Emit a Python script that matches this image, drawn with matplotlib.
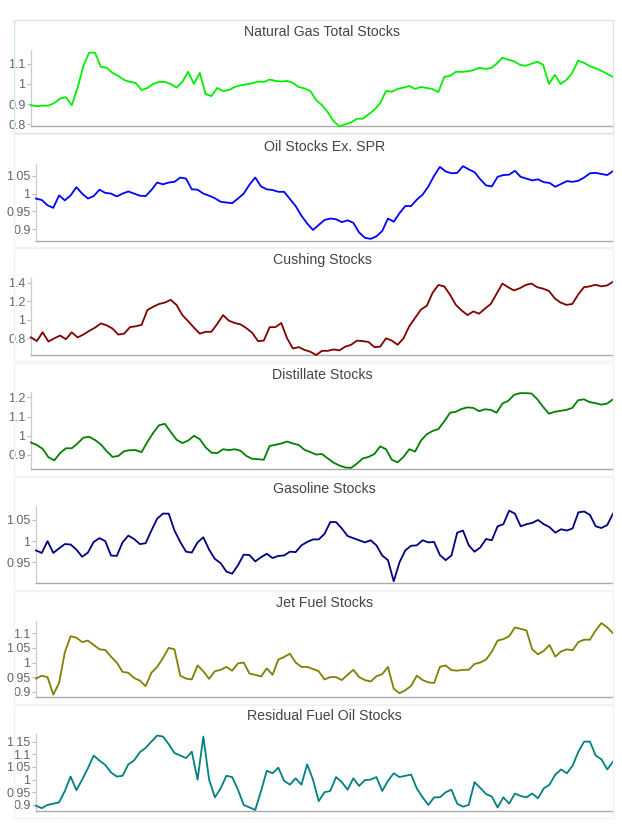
import numpy as np
import matplotlib.pyplot as plt
from matplotlib.patches import Rectangle
from matplotlib.ticker import FuncFormatter

plt.rcParams['font.family'] = ['Liberation Sans', 'DejaVu Sans']

titles = ["Natural Gas Total Stocks", "Oil Stocks Ex. SPR", "Cushing Stocks",
          "Distillate Stocks", "Gasoline Stocks", "Jet Fuel Stocks",
          "Residual Fuel Oil Stocks"]
colors = ["#00ee00", "#0000ff", "#800000", "#008000", "#000080", "#808000", "#008080"]

# weekly stock levels, normalised to their long-run average
nat_gas = [0.895, 0.89, 0.893, 0.893, 0.905, 0.928, 0.935, 0.895, 0.98, 1.09,
           1.155, 1.155, 1.085, 1.08, 1.055, 1.04, 1.02, 1.01, 1.005, 0.97,
           0.98, 1.0, 1.01, 1.01, 1.0, 0.982, 1.01, 1.06, 1.0, 1.055,
           0.95, 0.94, 0.98, 0.965, 0.97, 0.985, 0.993, 0.998, 1.003, 1.012,
           1.01, 1.022, 1.015, 1.012, 1.015, 1.005, 0.985, 0.978, 0.965, 0.92,
           0.895, 0.86, 0.815, 0.79, 0.8, 0.81, 0.828, 0.828, 0.85, 0.872,
           0.905, 0.965, 0.962, 0.975, 0.982, 0.99, 0.975, 0.985, 0.98, 0.975,
           0.96, 1.035, 1.04, 1.06, 1.06, 1.062, 1.068, 1.08, 1.075, 1.078,
           1.1, 1.13, 1.12, 1.112, 1.095, 1.09, 1.1, 1.11, 1.095, 1.0,
           1.045, 1.0, 1.02, 1.055, 1.115, 1.105, 1.088, 1.078, 1.065, 1.05, 1.035]
oil_ex_spr = [0.986, 0.982, 0.967, 0.96, 0.995, 0.981, 0.995, 1.018, 1.0, 0.986,
              0.993, 1.011, 1.002, 1.0, 0.992, 1.0, 1.006, 1.0, 0.994, 0.993,
              1.01, 1.031, 1.026, 1.031, 1.033, 1.045, 1.042, 1.012, 1.011, 1.0,
              0.994, 0.987, 0.977, 0.975, 0.973, 0.986, 1.0, 1.025, 1.045, 1.02,
              1.012, 1.01, 1.005, 1.005, 0.985, 0.965, 0.938, 0.916, 0.898, 0.912,
              0.926, 0.93, 0.928, 0.92, 0.925, 0.918, 0.891, 0.876, 0.873, 0.88,
              0.895, 0.93, 0.921, 0.945, 0.965, 0.965, 0.983, 0.997, 1.02, 1.05,
              1.075, 1.062, 1.057, 1.058, 1.077, 1.068, 1.06, 1.04, 1.023, 1.02,
              1.047, 1.052, 1.053, 1.064, 1.047, 1.042, 1.037, 1.04, 1.032, 1.03,
              1.019, 1.027, 1.035, 1.033, 1.036, 1.045, 1.057, 1.058, 1.055, 1.052, 1.063]
cushing = [0.81, 0.77, 0.865, 0.765, 0.8, 0.83, 0.79, 0.865, 0.81, 0.84,
           0.88, 0.915, 0.96, 0.94, 0.905, 0.84, 0.85, 0.92, 0.93, 0.945,
           1.105, 1.14, 1.17, 1.185, 1.215, 1.16, 1.05, 0.985, 0.915, 0.85,
           0.87, 0.87, 0.955, 1.05, 0.99, 0.965, 0.95, 0.91, 0.86, 0.77,
           0.775, 0.92, 0.92, 0.965, 0.8, 0.69, 0.705, 0.675, 0.655, 0.62,
           0.665, 0.665, 0.68, 0.67, 0.71, 0.73, 0.775, 0.77, 0.76, 0.705,
           0.71, 0.8, 0.775, 0.73, 0.8, 0.93, 1.02, 1.11, 1.15, 1.29,
           1.375, 1.36, 1.27, 1.16, 1.1, 1.05, 1.09, 1.065, 1.12, 1.17,
           1.28, 1.39, 1.35, 1.316, 1.34, 1.375, 1.39, 1.35, 1.335, 1.31,
           1.23, 1.185, 1.16, 1.17, 1.27, 1.35, 1.36, 1.377, 1.36, 1.37, 1.41]
distillate = [0.965, 0.952, 0.932, 0.888, 0.872, 0.91, 0.935, 0.935, 0.96, 0.99,
              0.995, 0.978, 0.955, 0.92, 0.89, 0.895, 0.92, 0.925, 0.925, 0.915,
              0.968, 1.015, 1.055, 1.062, 1.02, 0.98, 0.962, 0.975, 1.0, 0.982,
              0.94, 0.912, 0.91, 0.93, 0.925, 0.93, 0.922, 0.895, 0.88, 0.878,
              0.875, 0.947, 0.953, 0.96, 0.97, 0.96, 0.952, 0.927, 0.915, 0.902,
              0.905, 0.882, 0.86, 0.845, 0.835, 0.833, 0.855, 0.882, 0.89, 0.905,
              0.945, 0.93, 0.875, 0.862, 0.89, 0.93, 0.918, 0.975, 1.008, 1.025,
              1.035, 1.075, 1.12, 1.125, 1.14, 1.148, 1.145, 1.128, 1.138, 1.135,
              1.12, 1.168, 1.182, 1.213, 1.222, 1.222, 1.22, 1.19, 1.15, 1.115,
              1.125, 1.13, 1.135, 1.145, 1.185, 1.19, 1.175, 1.17, 1.162, 1.168, 1.19]
gasoline = [0.978, 0.972, 1.0, 0.972, 0.983, 0.993, 0.992, 0.98, 0.963, 0.973,
            0.998, 1.007, 1.0, 0.966, 0.965, 0.997, 1.013, 1.005, 0.993, 0.995,
            1.025, 1.053, 1.065, 1.065, 1.025, 0.998, 0.975, 0.973, 0.997, 1.009,
            0.98, 0.958, 0.948, 0.928, 0.923, 0.943, 0.968, 0.967, 0.952, 0.962,
            0.97, 0.96, 0.965, 0.966, 0.975, 0.974, 0.99, 0.998, 1.004, 1.004,
            1.017, 1.045, 1.045, 1.03, 1.012, 1.007, 1.002, 0.997, 1.002, 0.99,
            0.966, 0.955, 0.905, 0.95, 0.978, 0.989, 0.99, 1.002, 0.997, 0.998,
            0.967, 0.955, 0.966, 1.02, 1.025, 0.99, 0.975, 0.985, 1.005, 1.002,
            1.035, 1.04, 1.072, 1.065, 1.035, 1.04, 1.043, 1.05, 1.04, 1.033,
            1.02, 1.028, 1.025, 1.03, 1.068, 1.07, 1.062, 1.035, 1.031, 1.038, 1.065]
jet_fuel = [0.945, 0.955, 0.95, 0.89, 0.93, 1.035, 1.09, 1.085, 1.07, 1.075,
            1.06, 1.045, 1.043, 1.02, 1.0, 0.968, 0.965, 0.947, 0.938, 0.919,
            0.965, 0.985, 1.015, 1.05, 1.045, 0.955, 0.945, 0.942, 0.99, 0.97,
            0.944, 0.97, 0.975, 0.985, 0.972, 0.997, 1.0, 0.962, 0.958, 0.952,
            0.98, 0.958, 1.01, 1.019, 1.03, 1.0, 0.985, 0.985, 0.978, 0.97,
            0.942, 0.95, 0.95, 0.94, 0.958, 0.975, 0.95, 0.94, 0.935, 0.953,
            0.96, 0.985, 0.91, 0.895, 0.905, 0.92, 0.955, 0.94, 0.932, 0.93,
            0.985, 0.99, 0.974, 0.972, 0.975, 0.975, 0.995, 1.0, 1.01, 1.037,
            1.075, 1.08, 1.09, 1.12, 1.115, 1.11, 1.045, 1.028, 1.04, 1.06,
            1.02, 1.038, 1.045, 1.042, 1.07, 1.078, 1.078, 1.11, 1.135, 1.12, 1.1]
residual = [0.897, 0.887, 0.9, 0.905, 0.91, 0.955, 1.012, 0.958, 1.0, 1.045,
            1.095, 1.075, 1.058, 1.028, 1.012, 1.015, 1.06, 1.076, 1.108, 1.125,
            1.15, 1.174, 1.17, 1.14, 1.105, 1.095, 1.085, 1.11, 1.0, 1.17,
            1.0, 0.93, 0.965, 1.015, 1.01, 0.96, 0.9, 0.89, 0.88, 0.955,
            1.035, 1.025, 1.047, 0.995, 0.98, 1.005, 0.98, 1.06, 1.0, 0.915,
            0.95, 0.955, 1.01, 0.99, 0.96, 1.005, 0.975, 0.998, 1.0, 1.01,
            0.955, 0.995, 1.025, 1.01, 1.015, 1.02, 0.965, 0.93, 0.9, 0.93,
            0.93, 0.95, 0.96, 0.905, 0.893, 0.9, 0.99, 0.967, 0.943, 0.933,
            0.89, 0.93, 0.905, 0.945, 0.935, 0.93, 0.945, 0.926, 0.965, 0.98,
            1.02, 1.04, 1.025, 1.055, 1.11, 1.15, 1.15, 1.095, 1.08, 1.04, 1.071]

series = [nat_gas, oil_ex_spr, cushing, distillate, gasoline, jet_fuel, residual]
yticks = [[0.8, 0.9, 1, 1.1], [0.9, 0.95, 1, 1.05], [0.8, 1, 1.2, 1.4],
          [0.9, 1, 1.1, 1.2], [0.95, 1, 1.05], [0.9, 0.95, 1, 1.05, 1.1],
          [0.9, 0.95, 1, 1.05, 1.1, 1.15]]
yranges = [(0.792, 1.168), (0.867, 1.083), (0.62, 1.45), (0.827, 1.228),
           (0.901, 1.083), (0.882, 1.142), (0.876, 1.18)]

W, H = 622, 830
fig = plt.figure(figsize=(W / 100, H / 100), dpi=100)

# panel geometry in pixels
lefts = [31, 36, 31, 31, 36, 36, 36]
tops = [50, 164, 278, 392, 506, 621, 734]
bottoms = [126, 241, 355, 469, 583, 697, 811]
title_y = [32, 147, 260, 375, 489, 603, 716]
right = 613

for i in range(7):
    box_col = "#d3e5f5" if i == 0 else "#f1f1f8"
    bt = 20 + 114.2 * i
    fig.add_artist(Rectangle((14 / W, 1 - (bt + 113) / H), (right - 14) / W, 113 / H,
                             transform=fig.transFigure, fill=False,
                             edgecolor=box_col, lw=0.9))

    ax = fig.add_axes([lefts[i] / W, 1 - bottoms[i] / H,
                       (right - lefts[i]) / W, (bottoms[i] - tops[i]) / H])
    vals = series[i]
    weeks = np.arange(len(vals))
    ax.plot(weeks, vals, color=colors[i], lw=1.3, clip_on=False, zorder=3)
    ax.set_xlim(0, len(vals) - 1)
    ax.set_ylim(*yranges[i])
    ax.set_xticks([])
    ax.set_yticks(yticks[i])
    ax.yaxis.set_major_formatter(FuncFormatter(lambda v, p: f"{v:g}"))
    ax.tick_params(axis="y", direction="out", length=3, width=0.8, color="#bbbbbb",
                   labelcolor="#666666", labelsize=9, pad=1)
    for s in ["top", "right"]:
        ax.spines[s].set_visible(False)
    ax.spines["left"].set_color("#cccccc")
    ax.spines["left"].set_linewidth(0.9)
    ax.spines["bottom"].set_color("#aaaaaa")
    ax.spines["bottom"].set_linewidth(1.0)
    ax.patch.set_alpha(0)

    fig.text((lefts[i] + right) / 2 / W, 1 - title_y[i] / H, titles[i],
             ha="center", va="center", fontsize=10.2, color="#444444")

fig.savefig("out.png", dpi=100)
